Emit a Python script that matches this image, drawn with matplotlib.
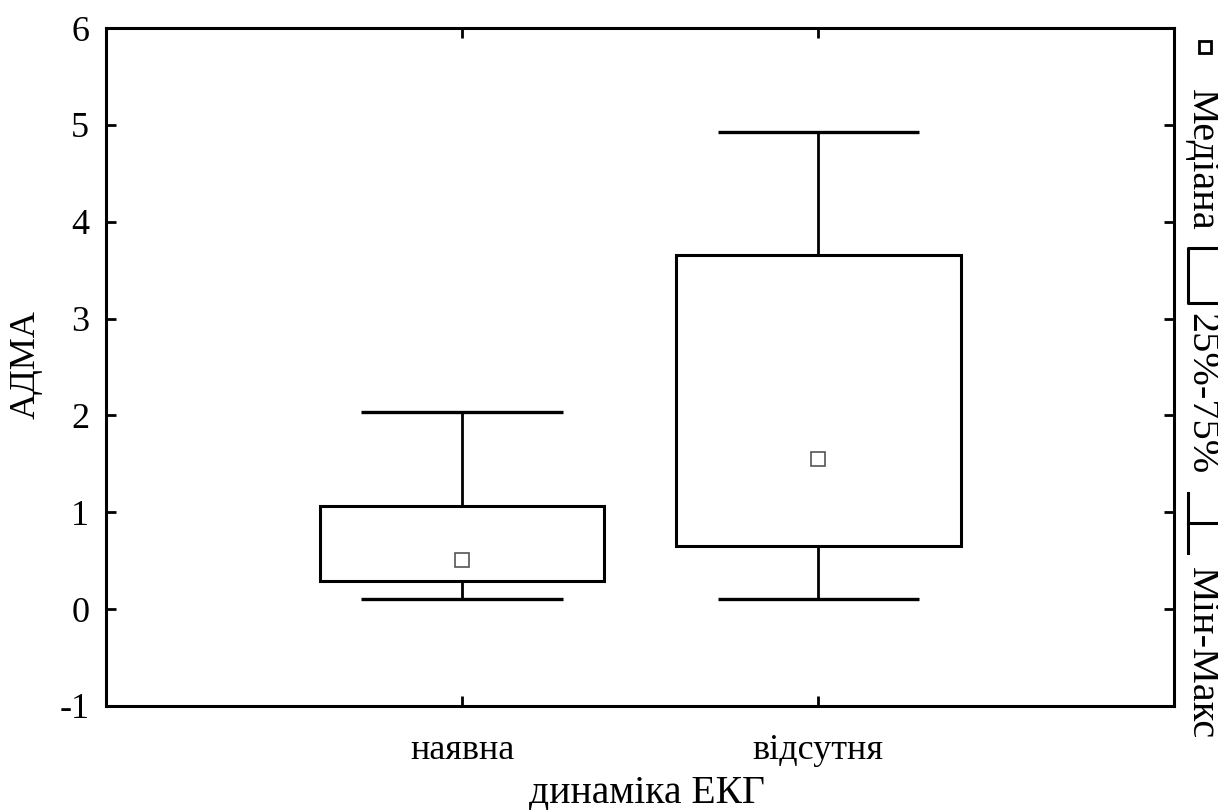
import numpy as np
import matplotlib
matplotlib.use("Agg")
import matplotlib.pyplot as plt
from matplotlib.lines import Line2D
from matplotlib.patches import Rectangle

plt.rcParams['font.family'] = ['Liberation Serif', 'DejaVu Serif']

# data
groups = ["наявна", "відсутня"]
medians = [0.51, 1.55]
q1 = [0.29, 0.65]
q3 = [1.06, 3.66]
mins = [0.10, 0.10]
maxs = [2.04, 4.93]

yticks = [-1, 0, 1, 2, 3, 4, 5, 6]

fig = plt.figure(figsize=(12.18, 8.10), dpi=100)
ax = fig.add_axes([0.087, 0.1284, 0.877, 0.837])

pos = np.arange(1, len(groups) + 1)
box_w = 0.80
cap_w = 0.565
lw = 2.2

for i, p in enumerate(pos):
    # whiskers
    ax.plot([p, p], [q3[i], maxs[i]], color="black", lw=2.0, zorder=2)
    ax.plot([p, p], [mins[i], q1[i]], color="black", lw=2.0, zorder=2)
    ax.plot([p - cap_w / 2, p + cap_w / 2], [maxs[i], maxs[i]], color="black", lw=2.4,
            solid_capstyle="butt", zorder=2)
    ax.plot([p - cap_w / 2, p + cap_w / 2], [mins[i], mins[i]], color="black", lw=2.4,
            solid_capstyle="butt", zorder=2)
    # box
    ax.add_patch(Rectangle((p - box_w / 2, q1[i]), box_w, q3[i] - q1[i],
                           facecolor="white", edgecolor="black", lw=lw, zorder=3))
    # median
    ax.plot(p, medians[i], marker="s", ms=9.5, mfc="white", mec="#555555", mew=1.2,
            ls="none", zorder=4)

ax.set_xlim(0, 3)
ax.set_ylim(-1, 6)
ax.set_xticks(pos)
ax.set_xticklabels(groups)
ax.set_yticks(yticks)
ax.set_yticklabels([str(t) for t in yticks])
ax.tick_params(axis="both", direction="in", length=7, width=2, labelsize=26,
               top=True, right=True, pad=12)
ax.tick_params(axis="x", pad=20)
for s in ax.spines.values():
    s.set_linewidth(2.2)

W, H = 1218.0, 810.0
def fx(px):
    return px / W
def fy(py):
    return 1 - py / H

# axis titles
fig.text(fx(647), fy(803), "динаміка ЕКГ", fontsize=28.5, ha="center", va="baseline")
fig.text(fx(26), fy(365), "АДМА", fontsize=26, rotation=90, ha="center", va="center")

# legend on the right, rotated
fig.add_artist(Line2D([fx(1205)], [fy(46.5)], marker="s", ms=9, mfc="white", mec="black",
                      mew=2, ls="none", transform=fig.transFigure))
fig.text(fx(1201), fy(89), "Медіана", rotation=-90, fontsize=29, ha="center", va="top")
fig.add_artist(Line2D([fx(1230), fx(1188), fx(1188), fx(1230)],
                      [fy(248), fy(248), fy(303), fy(303)], color="black", lw=2.2,
                      transform=fig.transFigure))
fig.text(fx(1201), fy(313), "25%-75%", rotation=-90, fontsize=29, ha="center", va="top")
fig.add_artist(Line2D([fx(1188), fx(1188)], [fy(493), fy(553)], color="black", lw=2.2,
                      transform=fig.transFigure))
fig.add_artist(Line2D([fx(1188), fx(1230)], [fy(523), fy(523)], color="black", lw=2.2,
                      transform=fig.transFigure))
fig.text(fx(1201), fy(567), "Мін-Макс", rotation=-90, fontsize=29, ha="center", va="top")

fig.savefig("out.png", dpi=100, facecolor="white")
